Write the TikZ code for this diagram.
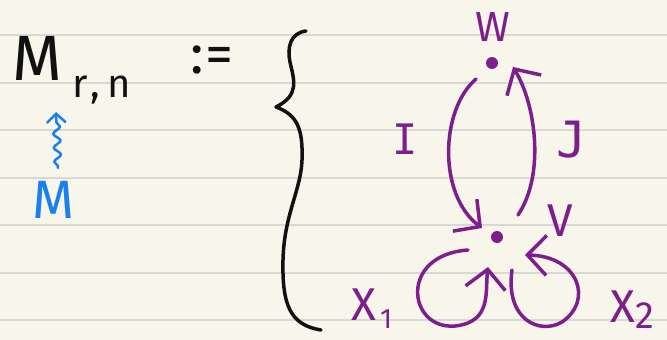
\documentclass[tikz,border=0pt]{standalone}
\usepackage{fontspec}
\setmainfont{Fira Sans}
\newfontfamily\handmono{DejaVu Sans Mono}
\usetikzlibrary{arrows.meta,decorations.pathmorphing}
\definecolor{paper}{HTML}{F8F6EA}
\definecolor{rule}{HTML}{D8D8D4}
\definecolor{ink}{HTML}{111111}
\definecolor{purp}{HTML}{7D1E8C}
\definecolor{bl}{HTML}{1A80EE}
\tikzset{
  pl/.style={draw=purp, line width=3.5pt, line cap=round, line join=round},
  parr/.style={pl, -{Straight Barb[length=19pt,width=40pt,line width=3.5pt]}},
  dot/.style={circle, fill=purp, inner sep=0pt, minimum size=12pt},
  lbl/.style={inner sep=0pt, text=purp},
}
\begin{document}
\begin{tikzpicture}[x=1pt,y=-1pt]
\fill[paper] (0,0) rectangle (667,340);
\useasboundingbox (0,0) rectangle (667,340);
\foreach \yy in {35,82.5,130,177.5,225,272.5,320}
  \draw[rule, line width=2pt] (0,\yy) -- (667,\yy);

% left formula
\node[inner sep=0pt, anchor=base west, text=ink] (Mk) at (12,80) {\fontsize{64}{64}\selectfont M};
\node[inner sep=0pt, anchor=base west, text=ink] (rn) at (72,97) {\fontsize{40}{40}\selectfont r\kern3pt,\kern7pt n};
\node[inner sep=0pt, text=ink] (def) at (212,60) {\fontsize{56}{56}\selectfont :\kern2pt=};
\node[inner sep=0pt, anchor=base west, text=bl] (Mb) at (32,218) {\fontsize{54}{54}\selectfont M};
\coordinate (sqA) at (58,168);
\coordinate (sqB) at (56,112);
\draw[bl, line width=2.5pt, line cap=round, line join=round,
  decorate, decoration={snake, amplitude=3.5pt, segment length=14pt, pre length=2pt, post length=7pt},
  -{Straight Barb[length=9pt,width=19pt,line width=2.5pt]}] (sqA) -- (sqB);

% brace
\draw[ink, line width=3.5pt, line cap=round, line join=round]
  (306,31) .. controls (290,33) and (287,48) .. (290,62)
  .. controls (294,80) and (300,95) .. (276,107)
  .. controls (298,115) and (303,130) .. (302,160)
  .. controls (301,190) and (284,215) .. (283,260)
  .. controls (282,305) and (290,325) .. (321,330);

% quiver
\node[dot] (w) at (492,63) {};
\node[dot] (v) at (497,237) {};
\node[lbl] (wl) at (493,27) {\fontsize{42}{42}\selectfont W};
\node[lbl] (vl) at (560,221) {\fontsize{46}{46}\selectfont V};
\node[lbl] (il) at (405,139) {\handmono\fontsize{42}{42}\selectfont I};
\node[lbl] (jl) at (572,140) {\handmono\fontsize{50}{50}\selectfont J};
\node[lbl, anchor=base west] (x1) at (351,320) {\fontsize{46}{46}\selectfont X\kern4pt\raisebox{-8pt}{\fontsize{28}{28}\selectfont 1}};
\node[lbl, anchor=base west] (x2) at (610,322) {\fontsize{46}{46}\selectfont X\raisebox{-6pt}{\fontsize{38}{38}\selectfont 2}};

\path (w) ++(-16,16) coordinate (iS);
\path (v) ++(-15,-9) coordinate (iE);
\path (v) ++(21,-22) coordinate (jS);
\path (w) ++(21,4) coordinate (jE);
\path (v) ++(-29,13) coordinate (aS);
\path (v) ++(-9,30) coordinate (aE);
\path (v) ++(15,33) coordinate (bS);
\path (v) ++(28,18) coordinate (bE);

\draw[parr] (iS) .. controls (440,110) and (438,195) .. (iE);
\draw[parr] (jS) .. controls (545,175) and (536,105) .. (jE);
\draw[parr] (aS) .. controls (398,255) and (408,330) .. (455,326)
  .. controls (492,322) and (485,292) .. (aE);
\draw[parr] (bS) .. controls (505,320) and (540,335) .. (562,322)
  .. controls (594,300) and (578,256) .. (bE);
\end{tikzpicture}
\end{document}
